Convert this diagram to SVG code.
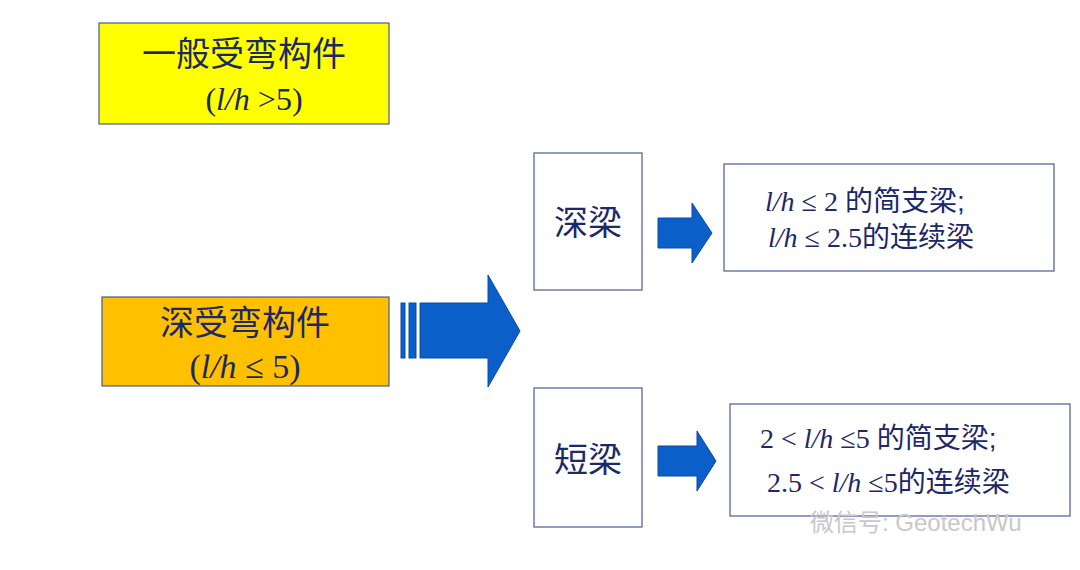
<svg xmlns="http://www.w3.org/2000/svg" width="1080" height="570" viewBox="0 0 1080 570" xml:space="preserve">
<style>
.b{stroke:#4a5a90;stroke-width:1.2}
.cn{font-family:"Liberation Sans","Noto Sans CJK SC",sans-serif;fill:#1c2868}
.tm{font-family:"Liberation Serif","Noto Sans CJK SC",serif;fill:#1c2868}
.ar{fill:#0a5fc8;stroke:#0a4aa8;stroke-width:1}
</style>
<rect width="1080" height="570" fill="#fff"/>
<g id="general"><rect x="99" y="23" width="290" height="101" fill="#ffff00" class="b"/>
<text x="244" y="66" text-anchor="middle" font-size="34" class="cn">一般受弯构件</text>
<text x="254" y="110" text-anchor="middle" font-size="32" class="tm">(<tspan font-style="italic">l/h</tspan> &gt;5)</text></g>
<g id="deepmember"><rect x="102" y="297" width="287" height="89" fill="#ffc000" class="b"/>
<text x="245" y="335" text-anchor="middle" font-size="34" class="cn">深受弯构件</text>
<text x="245" y="378" text-anchor="middle" font-size="34" class="tm">(<tspan font-style="italic">l/h</tspan> ≤ 5)</text></g>
<g id="deep"><rect x="534" y="153" width="108" height="137" fill="#fff" class="b"/>
<text x="588" y="235" text-anchor="middle" font-size="34" class="cn">深梁</text></g>
<g id="short"><rect x="534" y="388" width="108" height="139" fill="#fff" class="b"/>
<text x="588" y="472" text-anchor="middle" font-size="34" class="cn">短梁</text></g>
<g id="deepdesc"><rect x="724" y="164" width="330" height="107" fill="#fff" class="b"/>
<text x="765" y="211" font-size="28" class="tm"><tspan font-style="italic">l/h</tspan> ≤  2 <tspan class="cn">的简支梁;</tspan></text>
<text x="768" y="247" font-size="28" class="tm"><tspan font-style="italic">l/h</tspan>  ≤  2.5<tspan class="cn">的连续梁</tspan></text></g>
<g id="shortdesc"><rect x="730" y="404" width="340" height="112" fill="#fff" class="b"/>
<text x="760" y="448" font-size="28" class="tm">2 &lt; <tspan font-style="italic">l/h</tspan> ≤5 <tspan class="cn">的简支梁;</tspan></text>
<text x="767" y="492" font-size="28" class="tm">2.5 &lt; <tspan font-style="italic">l/h</tspan> ≤5<tspan class="cn">的连续梁</tspan></text></g>
<g id="connectors">
<rect x="401" y="303" width="4" height="55" class="ar"/>
<rect x="409" y="303" width="7" height="55" class="ar"/>
<polygon points="420,303 488,303 488,275 520,331 488,387 488,358 420,358" class="ar"/>
<polygon points="658,218 692,218 692,203 712,233 692,263 692,248 658,248" class="ar"/>
<polygon points="658,446 697,446 697,431 716,461 697,491 697,476 658,476" class="ar"/>
</g>
<text x="810" y="531" font-size="24" fill="#c8c8c8" font-family="Liberation Sans,Noto Sans CJK SC,sans-serif">微信号: GeotechWu</text>
</svg>
